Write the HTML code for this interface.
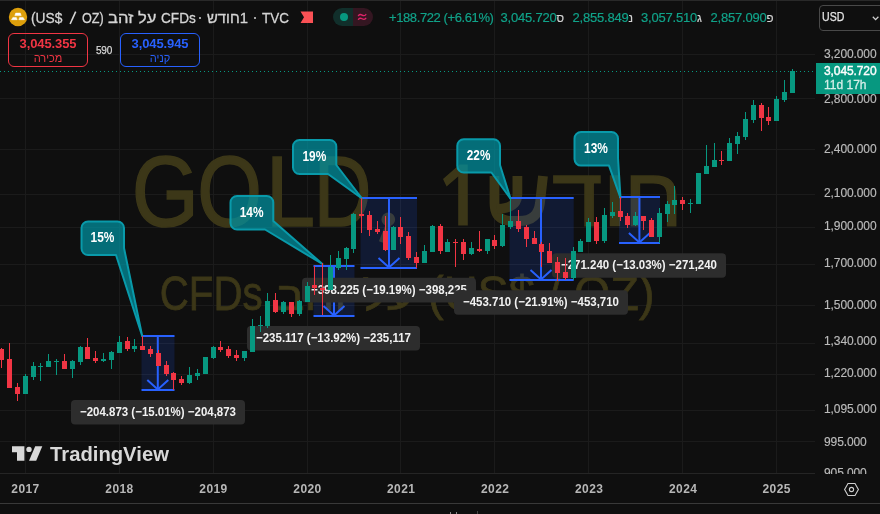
<!DOCTYPE html>
<html><head><meta charset="utf-8"><title>GOLD</title>
<style>
html,body{margin:0;padding:0;background:#0f0f0f;}
body{width:880px;height:514px;overflow:hidden;position:relative;font-family:"Liberation Sans",sans-serif;color:#d1d4dc;}
.abs{position:absolute;white-space:nowrap;}
.vis{direction:ltr;unicode-bidi:bidi-override;}
.pl{position:absolute;left:824px;font-size:12px;color:#bcbcbc;-webkit-text-stroke:0.15px #bcbcbc;white-space:nowrap;letter-spacing:-0.1px;line-height:12px;}
.ohlc{top:10px;font-size:13px;line-height:15px;color:#12a38a;letter-spacing:-0.2px;-webkit-text-stroke:0.2px #12a38a;}
.hl{color:#d6d6d6;font-size:11.5px;-webkit-text-stroke:0.2px #d6d6d6;}
.tl{position:absolute;top:482px;width:60px;text-align:center;font-size:12px;font-weight:bold;color:#b8b8b8;line-height:14px;letter-spacing:0.4px;text-indent:0.4px;}
#wrap{position:absolute;left:0;top:0;width:880px;height:514px;will-change:transform;opacity:0.999;}
</style></head><body><div id="wrap">
<svg width="880" height="514" viewBox="0 0 880 514" style="position:absolute;left:0;top:0" shape-rendering="geometricPrecision">
<g shape-rendering="crispEdges">
<rect x="25" y="0" width="1" height="474" fill="#1c1c1c"/>
<rect x="119" y="0" width="1" height="474" fill="#1c1c1c"/>
<rect x="213" y="0" width="1" height="474" fill="#1c1c1c"/>
<rect x="307" y="0" width="1" height="474" fill="#1c1c1c"/>
<rect x="400" y="0" width="1" height="474" fill="#1c1c1c"/>
<rect x="494" y="0" width="1" height="474" fill="#1c1c1c"/>
<rect x="588" y="0" width="1" height="474" fill="#1c1c1c"/>
<rect x="682" y="0" width="1" height="474" fill="#1c1c1c"/>
<rect x="776" y="0" width="1" height="474" fill="#1c1c1c"/>
<rect x="0" y="54" width="815" height="1" fill="#1c1c1c"/>
<rect x="0" y="98" width="815" height="1" fill="#1c1c1c"/>
<rect x="0" y="149" width="815" height="1" fill="#1c1c1c"/>
<rect x="0" y="194" width="815" height="1" fill="#1c1c1c"/>
<rect x="0" y="227" width="815" height="1" fill="#1c1c1c"/>
<rect x="0" y="264" width="815" height="1" fill="#1c1c1c"/>
<rect x="0" y="305" width="815" height="1" fill="#1c1c1c"/>
<rect x="0" y="343" width="815" height="1" fill="#1c1c1c"/>
<rect x="0" y="374" width="815" height="1" fill="#1c1c1c"/>
<rect x="0" y="410" width="815" height="1" fill="#1c1c1c"/>
<rect x="0" y="441" width="815" height="1" fill="#1c1c1c"/>
<rect x="0" y="473" width="815" height="1" fill="#1c1c1c"/>
</g>
<!-- watermark -->
<g fill="#3d3819" stroke="#3d3819" stroke-width="1.6" font-family="Liberation Sans, sans-serif">
<text transform="translate(131.86 226) scale(0.8624 1.0000)" font-size="100" direction="ltr" unicode-bidi="bidi-override" xml:space="preserve">G</text>
<text transform="translate(197.36 226) scale(0.8321 1.0000)" font-size="100" direction="ltr" unicode-bidi="bidi-override" xml:space="preserve">O</text>
<text transform="translate(265.63 226) scale(0.8868 1.0000)" font-size="100" direction="ltr" unicode-bidi="bidi-override" xml:space="preserve">L</text>
<text transform="translate(313.75 226) scale(0.7986 1.0000)" font-size="100" direction="ltr" unicode-bidi="bidi-override" xml:space="preserve">D</text>
<path d="M388.3 212.6 a6.8 6.8 0 1 1 -0.01 0 Z M391.5 224.5 L383.8 243 L378.9 241.2 L385.2 225.5 Z" stroke="none"/>
<path d="M467.8 164.6 V225.5 H458.2 V176.6 L446.6 186.6 L443 179 L459.6 164.6 Z" stroke="none"/>
<path d="M494.5 176 L494.5 203 C494.5 216 501 221 513 221 L519 221 C533 221 538.5 214 540 203 L543 176" fill="none" stroke-width="9.8"/>
<path d="M517.4 176 L517.4 194 C517.4 204 511 208.5 497 209" fill="none" stroke-width="9.8"/>
<text transform="translate(551.98 225.6) scale(0.9115 0.8300)" font-size="100" direction="ltr" unicode-bidi="bidi-override" xml:space="preserve">ד</text>
<text transform="translate(602.28 225.6) scale(0.9795 0.8300)" font-size="100" direction="ltr" unicode-bidi="bidi-override" xml:space="preserve">ו</text>
<text transform="translate(623.67 225.6) scale(0.8983 0.8300)" font-size="100" direction="ltr" unicode-bidi="bidi-override" xml:space="preserve">ח</text>
<text transform="translate(159.75 310) scale(0.4031 0.4830)" font-size="100" direction="ltr" unicode-bidi="bidi-override" xml:space="preserve">CFDs</text>
<text transform="translate(276.31 310) scale(0.4722 0.4009)" font-size="100" direction="ltr" unicode-bidi="bidi-override" xml:space="preserve">בהז לע</text>
<text transform="translate(428.09 310) scale(0.4686 0.4830)" font-size="100" direction="ltr" unicode-bidi="bidi-override" xml:space="preserve">(US$ / OZ)</text>
</g>
<!-- drawings -->
<rect x="141.5" y="336" width="33.0" height="54" fill="rgba(41,98,255,0.155)"/><line x1="141.5" y1="336" x2="174.5" y2="336" stroke="#2962ff" stroke-width="2"/><line x1="141.5" y1="390" x2="174.5" y2="390" stroke="#2962ff" stroke-width="2"/><line x1="157.8" y1="336" x2="157.8" y2="390" stroke="#2962ff" stroke-width="2"/><path d="M147.3 380 L157.8 389.5 L168.3 380" stroke="#2962ff" stroke-width="2" fill="none"/><rect x="313.5" y="266" width="41.0" height="50" fill="rgba(41,98,255,0.155)"/><line x1="313.5" y1="266" x2="354.5" y2="266" stroke="#2962ff" stroke-width="2"/><line x1="313.5" y1="316" x2="354.5" y2="316" stroke="#2962ff" stroke-width="2"/><line x1="334" y1="266" x2="334" y2="316" stroke="#2962ff" stroke-width="2"/><path d="M323.5 306 L334 315.5 L344.5 306" stroke="#2962ff" stroke-width="2" fill="none"/><rect x="360.5" y="198" width="56.5" height="70" fill="rgba(41,98,255,0.155)"/><line x1="360.5" y1="198" x2="417" y2="198" stroke="#2962ff" stroke-width="2"/><line x1="360.5" y1="268" x2="417" y2="268" stroke="#2962ff" stroke-width="2"/><line x1="389" y1="198" x2="389" y2="268" stroke="#2962ff" stroke-width="2"/><path d="M378.5 258 L389 267.5 L399.5 258" stroke="#2962ff" stroke-width="2" fill="none"/><rect x="509.5" y="198" width="64.20000000000005" height="82" fill="rgba(41,98,255,0.155)"/><line x1="509.5" y1="198" x2="573.7" y2="198" stroke="#2962ff" stroke-width="2"/><line x1="509.5" y1="280" x2="573.7" y2="280" stroke="#2962ff" stroke-width="2"/><line x1="541" y1="198" x2="541" y2="280" stroke="#2962ff" stroke-width="2"/><path d="M530.5 270 L541 279.5 L551.5 270" stroke="#2962ff" stroke-width="2" fill="none"/><rect x="619" y="197" width="41" height="46" fill="rgba(41,98,255,0.155)"/><line x1="619" y1="197" x2="660" y2="197" stroke="#2962ff" stroke-width="2"/><line x1="619" y1="243" x2="660" y2="243" stroke="#2962ff" stroke-width="2"/><line x1="639.4" y1="197" x2="639.4" y2="243" stroke="#2962ff" stroke-width="2"/><path d="M628.9 233 L639.4 242.5 L649.9 233" stroke="#2962ff" stroke-width="2" fill="none"/>
<rect x="71.0" y="399.9" width="174" height="24.7" rx="4" ry="4" fill="#2e2e2e"/><text x="158" y="415.85" text-anchor="middle" font-family="Liberation Sans, sans-serif" font-weight="bold" font-size="12.5" fill="#f2f2f2" textLength="156" lengthAdjust="spacingAndGlyphs">−204.873 (−15.01%) −204,873</text><rect x="247.0" y="326" width="173" height="24.5" rx="4" ry="4" fill="#2e2e2e"/><text x="333.5" y="341.85" text-anchor="middle" font-family="Liberation Sans, sans-serif" font-weight="bold" font-size="12.5" fill="#f2f2f2" textLength="155" lengthAdjust="spacingAndGlyphs">−235.117 (−13.92%) −235,117</text><rect x="302.0" y="277.8" width="174" height="24.6" rx="4" ry="4" fill="#2e2e2e"/><text x="389" y="293.70000000000005" text-anchor="middle" font-family="Liberation Sans, sans-serif" font-weight="bold" font-size="12.5" fill="#f2f2f2" textLength="156" lengthAdjust="spacingAndGlyphs">−398.225 (−19.19%) −398,225</text><rect x="454.0" y="290.2" width="174" height="24.6" rx="4" ry="4" fill="#2e2e2e"/><text x="541" y="306.1" text-anchor="middle" font-family="Liberation Sans, sans-serif" font-weight="bold" font-size="12.5" fill="#f2f2f2" textLength="156" lengthAdjust="spacingAndGlyphs">−453.710 (−21.91%) −453,710</text><rect x="552.0" y="253.2" width="174" height="24.5" rx="4" ry="4" fill="#2e2e2e"/><text x="639" y="269.05" text-anchor="middle" font-family="Liberation Sans, sans-serif" font-weight="bold" font-size="12.5" fill="#f2f2f2" textLength="156" lengthAdjust="spacingAndGlyphs">−271.240 (−13.03%) −271,240</text>
<path d="M88.0 221.5 H117.5 A6.5 6.5 0 0 1 124 228.0 V248 L142.2 336 L116 255 H88.0 A6.5 6.5 0 0 1 81.5 248.5 V228.0 A6.5 6.5 0 0 1 88.0 221.5 Z" fill="rgba(0,151,167,0.7)" stroke="#0a9bab" stroke-width="2" stroke-linejoin="round"/><text font-family="Liberation Sans, sans-serif" transform="translate(90.60 242.15) scale(0.1192 0.1500)" font-size="100" fill="#fff" font-weight="bold" direction="ltr" unicode-bidi="bidi-override" xml:space="preserve">15%</text><path d="M237.0 196 H266.8 A6.5 6.5 0 0 1 273.3 202.5 V221 L322.4 264 L265 229.5 H237.0 A6.5 6.5 0 0 1 230.5 223.0 V202.5 A6.5 6.5 0 0 1 237.0 196 Z" fill="rgba(0,151,167,0.7)" stroke="#0a9bab" stroke-width="2" stroke-linejoin="round"/><text font-family="Liberation Sans, sans-serif" transform="translate(239.75 216.65) scale(0.1192 0.1500)" font-size="100" fill="#fff" font-weight="bold" direction="ltr" unicode-bidi="bidi-override" xml:space="preserve">14%</text><path d="M299.5 140 H329.8 A6.5 6.5 0 0 1 336.3 146.5 V165 L362 198.5 L328 174 H299.5 A6.5 6.5 0 0 1 293 167.5 V146.5 A6.5 6.5 0 0 1 299.5 140 Z" fill="rgba(0,151,167,0.7)" stroke="#0a9bab" stroke-width="2" stroke-linejoin="round"/><text font-family="Liberation Sans, sans-serif" transform="translate(302.50 160.9) scale(0.1192 0.1500)" font-size="100" fill="#fff" font-weight="bold" direction="ltr" unicode-bidi="bidi-override" xml:space="preserve">19%</text><path d="M463.8 139.2 H493.5 A6.5 6.5 0 0 1 500 145.7 V165 L510.5 198.6 L491.4 172.5 H463.8 A6.5 6.5 0 0 1 457.3 166.0 V145.7 A6.5 6.5 0 0 1 463.8 139.2 Z" fill="rgba(0,151,167,0.7)" stroke="#0a9bab" stroke-width="2" stroke-linejoin="round"/><text font-family="Liberation Sans, sans-serif" transform="translate(466.84 159.75) scale(0.1175 0.1500)" font-size="100" fill="#fff" font-weight="bold" direction="ltr" unicode-bidi="bidi-override" xml:space="preserve">22%</text><path d="M581.0 132 H611.5 A6.5 6.5 0 0 1 618 138.5 V158 L620.5 198 L609 165.6 H581.0 A6.5 6.5 0 0 1 574.5 159.1 V138.5 A6.5 6.5 0 0 1 581.0 132 Z" fill="rgba(0,151,167,0.7)" stroke="#0a9bab" stroke-width="2" stroke-linejoin="round"/><text font-family="Liberation Sans, sans-serif" transform="translate(584.10 152.70000000000002) scale(0.1192 0.1500)" font-size="100" fill="#fff" font-weight="bold" direction="ltr" unicode-bidi="bidi-override" xml:space="preserve">13%</text>
<!-- price line -->
<line x1="0" y1="71.5" x2="815" y2="71.5" stroke="#089981" stroke-width="1" stroke-dasharray="1 3" shape-rendering="crispEdges"/>
<g shape-rendering="crispEdges">
<rect x="1" y="348" width="1" height="20" fill="#f23645"/>
<rect x="-1" y="349" width="5" height="11" fill="#f23645"/>
<rect x="9" y="343" width="1" height="45" fill="#f23645"/>
<rect x="7" y="359" width="5" height="29" fill="#f23645"/>
<rect x="17" y="383" width="1" height="18" fill="#f23645"/>
<rect x="15" y="387" width="5" height="7" fill="#f23645"/>
<rect x="25" y="374" width="1" height="20" fill="#089981"/>
<rect x="23" y="376" width="5" height="18" fill="#089981"/>
<rect x="33" y="362" width="1" height="18" fill="#089981"/>
<rect x="31" y="366" width="5" height="11" fill="#089981"/>
<rect x="40" y="363" width="1" height="18" fill="#089981"/>
<rect x="38" y="366" width="5" height="1" fill="#089981"/>
<rect x="48" y="354" width="1" height="13" fill="#089981"/>
<rect x="46" y="361" width="5" height="6" fill="#089981"/>
<rect x="56" y="359" width="1" height="16" fill="#089981"/>
<rect x="54" y="361" width="5" height="1" fill="#089981"/>
<rect x="64" y="354" width="1" height="15" fill="#f23645"/>
<rect x="62" y="361" width="5" height="8" fill="#f23645"/>
<rect x="72" y="360" width="1" height="18" fill="#089981"/>
<rect x="70" y="361" width="5" height="8" fill="#089981"/>
<rect x="80" y="346" width="1" height="19" fill="#089981"/>
<rect x="78" y="347" width="5" height="15" fill="#089981"/>
<rect x="87" y="338" width="1" height="21" fill="#f23645"/>
<rect x="85" y="347" width="5" height="12" fill="#f23645"/>
<rect x="95" y="351" width="1" height="12" fill="#f23645"/>
<rect x="93" y="358" width="5" height="3" fill="#f23645"/>
<rect x="103" y="353" width="1" height="9" fill="#089981"/>
<rect x="101" y="359" width="5" height="2" fill="#089981"/>
<rect x="111" y="351" width="1" height="18" fill="#089981"/>
<rect x="109" y="352" width="5" height="8" fill="#089981"/>
<rect x="119" y="336" width="1" height="17" fill="#089981"/>
<rect x="117" y="342" width="5" height="11" fill="#089981"/>
<rect x="127" y="337" width="1" height="14" fill="#f23645"/>
<rect x="125" y="341" width="5" height="8" fill="#f23645"/>
<rect x="134" y="339" width="1" height="13" fill="#089981"/>
<rect x="132" y="346" width="5" height="3" fill="#089981"/>
<rect x="142" y="336" width="1" height="14" fill="#f23645"/>
<rect x="140" y="346" width="5" height="4" fill="#f23645"/>
<rect x="150" y="346" width="1" height="11" fill="#f23645"/>
<rect x="148" y="349" width="5" height="5" fill="#f23645"/>
<rect x="158" y="350" width="1" height="16" fill="#f23645"/>
<rect x="156" y="353" width="5" height="13" fill="#f23645"/>
<rect x="166" y="361" width="1" height="15" fill="#f23645"/>
<rect x="164" y="365" width="5" height="9" fill="#f23645"/>
<rect x="173" y="372" width="1" height="18" fill="#f23645"/>
<rect x="171" y="373" width="5" height="7" fill="#f23645"/>
<rect x="181" y="376" width="1" height="9" fill="#f23645"/>
<rect x="179" y="379" width="5" height="4" fill="#f23645"/>
<rect x="189" y="367" width="1" height="17" fill="#089981"/>
<rect x="187" y="375" width="5" height="8" fill="#089981"/>
<rect x="197" y="369" width="1" height="11" fill="#089981"/>
<rect x="195" y="373" width="5" height="3" fill="#089981"/>
<rect x="205" y="357" width="1" height="17" fill="#089981"/>
<rect x="203" y="357" width="5" height="17" fill="#089981"/>
<rect x="213" y="346" width="1" height="13" fill="#089981"/>
<rect x="211" y="347" width="5" height="11" fill="#089981"/>
<rect x="220" y="341" width="1" height="11" fill="#f23645"/>
<rect x="218" y="347" width="5" height="3" fill="#f23645"/>
<rect x="228" y="346" width="1" height="12" fill="#f23645"/>
<rect x="226" y="349" width="5" height="7" fill="#f23645"/>
<rect x="236" y="350" width="1" height="11" fill="#f23645"/>
<rect x="234" y="355" width="5" height="3" fill="#f23645"/>
<rect x="244" y="351" width="1" height="10" fill="#089981"/>
<rect x="242" y="351" width="5" height="7" fill="#089981"/>
<rect x="252" y="319" width="1" height="33" fill="#089981"/>
<rect x="250" y="326" width="5" height="26" fill="#089981"/>
<rect x="260" y="316" width="1" height="16" fill="#089981"/>
<rect x="258" y="325" width="5" height="1" fill="#089981"/>
<rect x="267" y="293" width="1" height="35" fill="#089981"/>
<rect x="265" y="301" width="5" height="25" fill="#089981"/>
<rect x="275" y="293" width="1" height="20" fill="#f23645"/>
<rect x="273" y="300" width="5" height="12" fill="#f23645"/>
<rect x="283" y="301" width="1" height="13" fill="#089981"/>
<rect x="281" y="302" width="5" height="10" fill="#089981"/>
<rect x="291" y="302" width="1" height="15" fill="#f23645"/>
<rect x="289" y="302" width="5" height="12" fill="#f23645"/>
<rect x="299" y="300" width="1" height="16" fill="#089981"/>
<rect x="297" y="301" width="5" height="13" fill="#089981"/>
<rect x="307" y="282" width="1" height="20" fill="#089981"/>
<rect x="305" y="286" width="5" height="16" fill="#089981"/>
<rect x="314" y="266" width="1" height="29" fill="#f23645"/>
<rect x="312" y="285" width="5" height="3" fill="#f23645"/>
<rect x="322" y="263" width="1" height="52" fill="#f23645"/>
<rect x="320" y="288" width="5" height="2" fill="#f23645"/>
<rect x="330" y="255" width="1" height="35" fill="#089981"/>
<rect x="328" y="267" width="5" height="23" fill="#089981"/>
<rect x="338" y="251" width="1" height="19" fill="#089981"/>
<rect x="336" y="258" width="5" height="10" fill="#089981"/>
<rect x="346" y="247" width="1" height="23" fill="#089981"/>
<rect x="344" y="248" width="5" height="11" fill="#089981"/>
<rect x="353" y="213" width="1" height="40" fill="#089981"/>
<rect x="351" y="214" width="5" height="35" fill="#089981"/>
<rect x="361" y="198" width="1" height="35" fill="#f23645"/>
<rect x="359" y="214" width="5" height="2" fill="#f23645"/>
<rect x="369" y="211" width="1" height="25" fill="#f23645"/>
<rect x="367" y="215" width="5" height="15" fill="#f23645"/>
<rect x="377" y="221" width="1" height="13" fill="#f23645"/>
<rect x="375" y="229" width="5" height="3" fill="#f23645"/>
<rect x="385" y="216" width="1" height="35" fill="#f23645"/>
<rect x="383" y="231" width="5" height="19" fill="#f23645"/>
<rect x="393" y="226" width="1" height="24" fill="#089981"/>
<rect x="391" y="227" width="5" height="23" fill="#089981"/>
<rect x="400" y="217" width="1" height="27" fill="#f23645"/>
<rect x="398" y="227" width="5" height="10" fill="#f23645"/>
<rect x="408" y="232" width="1" height="28" fill="#f23645"/>
<rect x="406" y="236" width="5" height="22" fill="#f23645"/>
<rect x="416" y="252" width="1" height="16" fill="#f23645"/>
<rect x="414" y="257" width="5" height="6" fill="#f23645"/>
<rect x="424" y="245" width="1" height="18" fill="#089981"/>
<rect x="422" y="251" width="5" height="12" fill="#089981"/>
<rect x="432" y="225" width="1" height="27" fill="#089981"/>
<rect x="430" y="226" width="5" height="26" fill="#089981"/>
<rect x="440" y="224" width="1" height="30" fill="#f23645"/>
<rect x="438" y="226" width="5" height="25" fill="#f23645"/>
<rect x="447" y="239" width="1" height="13" fill="#089981"/>
<rect x="445" y="242" width="5" height="10" fill="#089981"/>
<rect x="455" y="239" width="1" height="28" fill="#f23645"/>
<rect x="453" y="242" width="5" height="1" fill="#f23645"/>
<rect x="463" y="239" width="1" height="21" fill="#f23645"/>
<rect x="461" y="242" width="5" height="12" fill="#f23645"/>
<rect x="471" y="242" width="1" height="13" fill="#089981"/>
<rect x="469" y="248" width="5" height="6" fill="#089981"/>
<rect x="479" y="231" width="1" height="21" fill="#f23645"/>
<rect x="477" y="249" width="5" height="2" fill="#f23645"/>
<rect x="487" y="239" width="1" height="15" fill="#089981"/>
<rect x="485" y="239" width="5" height="12" fill="#089981"/>
<rect x="494" y="235" width="1" height="14" fill="#f23645"/>
<rect x="492" y="240" width="5" height="6" fill="#f23645"/>
<rect x="502" y="214" width="1" height="33" fill="#089981"/>
<rect x="500" y="225" width="5" height="21" fill="#089981"/>
<rect x="510" y="199" width="1" height="30" fill="#089981"/>
<rect x="508" y="221" width="5" height="6" fill="#089981"/>
<rect x="518" y="210" width="1" height="22" fill="#f23645"/>
<rect x="516" y="221" width="5" height="8" fill="#f23645"/>
<rect x="526" y="225" width="1" height="22" fill="#f23645"/>
<rect x="524" y="227" width="5" height="12" fill="#f23645"/>
<rect x="534" y="231" width="1" height="13" fill="#f23645"/>
<rect x="532" y="238" width="5" height="6" fill="#f23645"/>
<rect x="541" y="242" width="1" height="25" fill="#f23645"/>
<rect x="539" y="244" width="5" height="8" fill="#f23645"/>
<rect x="549" y="243" width="1" height="20" fill="#f23645"/>
<rect x="547" y="251" width="5" height="12" fill="#f23645"/>
<rect x="557" y="257" width="1" height="24" fill="#f23645"/>
<rect x="555" y="262" width="5" height="11" fill="#f23645"/>
<rect x="565" y="258" width="1" height="22" fill="#f23645"/>
<rect x="563" y="272" width="5" height="6" fill="#f23645"/>
<rect x="573" y="247" width="1" height="33" fill="#089981"/>
<rect x="571" y="251" width="5" height="27" fill="#089981"/>
<rect x="580" y="239" width="1" height="13" fill="#089981"/>
<rect x="578" y="241" width="5" height="11" fill="#089981"/>
<rect x="588" y="218" width="1" height="24" fill="#089981"/>
<rect x="586" y="222" width="5" height="20" fill="#089981"/>
<rect x="596" y="217" width="1" height="27" fill="#f23645"/>
<rect x="594" y="222" width="5" height="19" fill="#f23645"/>
<rect x="604" y="208" width="1" height="35" fill="#089981"/>
<rect x="602" y="215" width="5" height="26" fill="#089981"/>
<rect x="612" y="202" width="1" height="16" fill="#089981"/>
<rect x="610" y="212" width="5" height="4" fill="#089981"/>
<rect x="620" y="197" width="1" height="24" fill="#f23645"/>
<rect x="618" y="211" width="5" height="6" fill="#f23645"/>
<rect x="627" y="213" width="1" height="15" fill="#f23645"/>
<rect x="625" y="216" width="5" height="9" fill="#f23645"/>
<rect x="635" y="212" width="1" height="14" fill="#089981"/>
<rect x="633" y="216" width="5" height="9" fill="#089981"/>
<rect x="643" y="216" width="1" height="14" fill="#f23645"/>
<rect x="641" y="216" width="5" height="5" fill="#f23645"/>
<rect x="651" y="218" width="1" height="19" fill="#f23645"/>
<rect x="649" y="220" width="5" height="17" fill="#f23645"/>
<rect x="659" y="208" width="1" height="35" fill="#089981"/>
<rect x="657" y="213" width="5" height="24" fill="#089981"/>
<rect x="667" y="201" width="1" height="21" fill="#089981"/>
<rect x="665" y="204" width="5" height="10" fill="#089981"/>
<rect x="674" y="186" width="1" height="28" fill="#089981"/>
<rect x="672" y="200" width="5" height="5" fill="#089981"/>
<rect x="682" y="197" width="1" height="13" fill="#f23645"/>
<rect x="680" y="200" width="5" height="4" fill="#f23645"/>
<rect x="690" y="199" width="1" height="14" fill="#089981"/>
<rect x="688" y="203" width="5" height="1" fill="#089981"/>
<rect x="698" y="173" width="1" height="31" fill="#089981"/>
<rect x="696" y="173" width="5" height="31" fill="#089981"/>
<rect x="706" y="145" width="1" height="29" fill="#089981"/>
<rect x="704" y="166" width="5" height="8" fill="#089981"/>
<rect x="714" y="143" width="1" height="24" fill="#089981"/>
<rect x="712" y="160" width="5" height="7" fill="#089981"/>
<rect x="721" y="151" width="1" height="14" fill="#f23645"/>
<rect x="719" y="160" width="5" height="1" fill="#f23645"/>
<rect x="729" y="138" width="1" height="23" fill="#089981"/>
<rect x="727" y="143" width="5" height="18" fill="#089981"/>
<rect x="737" y="132" width="1" height="22" fill="#089981"/>
<rect x="735" y="136" width="5" height="8" fill="#089981"/>
<rect x="745" y="112" width="1" height="28" fill="#089981"/>
<rect x="743" y="119" width="5" height="18" fill="#089981"/>
<rect x="753" y="100" width="1" height="23" fill="#089981"/>
<rect x="751" y="105" width="5" height="15" fill="#089981"/>
<rect x="761" y="103" width="1" height="28" fill="#f23645"/>
<rect x="759" y="105" width="5" height="13" fill="#f23645"/>
<rect x="768" y="107" width="1" height="18" fill="#f23645"/>
<rect x="766" y="117" width="5" height="4" fill="#f23645"/>
<rect x="776" y="96" width="1" height="25" fill="#089981"/>
<rect x="774" y="99" width="5" height="22" fill="#089981"/>
<rect x="784" y="80" width="1" height="22" fill="#089981"/>
<rect x="782" y="92" width="5" height="8" fill="#089981"/>
<rect x="792" y="69" width="1" height="24" fill="#089981"/>
<rect x="790" y="71" width="5" height="22" fill="#089981"/>
</g>
</svg>

<div class="abs" style="left:0;top:0;width:880px;height:1px;background:#2a2a2a"></div>
<!-- gold icon -->
<svg class="abs" style="left:8px;top:7px" width="20" height="20" viewBox="-10 -10 20 20">
<circle cx="0" cy="-0.05" r="9.2" fill="#dea00c"/>
<g fill="#fff" stroke="#fff" stroke-width="0.5" stroke-linejoin="round">
<path d="M-2.3 -3.9H2.3L3.2 -1.4H-3.2Z"/>
<path d="M-5.1 0.4H-1.7L-0.8 2.7H-6.5Z"/>
<path d="M1.7 0.4H5.1L6.5 2.7H0.8Z"/>
</g>
</svg>
<div class="abs vis" style="left:31.35px;top:9.1px;font-size:15.3px;line-height:18px;color:#d6d6d6;transform-origin:0 0;transform:scaleX(0.9001);-webkit-text-stroke:0.3px #d6d6d6;">(US$</div>
<svg class="abs" style="left:66px;top:8px" width="14" height="20" viewBox="66 8 14 20"><line x1="70.1" y1="24" x2="75.7" y2="11.6" stroke="#d6d6d6" stroke-width="1.6"/></svg>
<div class="abs vis" style="left:82.00px;top:9.1px;font-size:15.3px;line-height:18px;color:#d6d6d6;transform-origin:0 0;transform:scaleX(0.8270);-webkit-text-stroke:0.3px #d6d6d6;">OZ)</div>
<div class="abs vis" style="left:108.24px;top:9.1px;font-size:15.3px;line-height:18px;color:#d6d6d6;transform-origin:0 0;transform:scaleX(1.0828);-webkit-text-stroke:0.3px #d6d6d6;">בהז לע</div>
<div class="abs vis" style="left:160.71px;top:9.1px;font-size:15.3px;line-height:18px;color:#d6d6d6;transform-origin:0 0;transform:scaleX(0.8897);-webkit-text-stroke:0.3px #d6d6d6;">CFDs</div>
<div class="abs" style="left:199.1px;top:16.7px;width:2.3px;height:2.3px;border-radius:1.2px;background:#d6d6d6"></div>
<div class="abs vis" style="left:207.23px;top:9.1px;font-size:15.3px;line-height:18px;color:#d6d6d6;transform-origin:0 0;transform:scaleX(0.9714);-webkit-text-stroke:0.3px #d6d6d6;">שדוח1</div>
<div class="abs" style="left:253.5px;top:16.7px;width:2.3px;height:2.3px;border-radius:1.2px;background:#d6d6d6"></div>
<div class="abs vis" style="left:262.30px;top:9.1px;font-size:15.3px;line-height:18px;color:#d6d6d6;transform-origin:0 0;transform:scaleX(0.8796);-webkit-text-stroke:0.3px #d6d6d6;">TVC</div>
<!-- flag -->
<svg class="abs" style="left:300px;top:11px" width="14" height="13" viewBox="0 0 14 13"><path d="M0.5 0.5H13V12H0.5L4 6.2Z" fill="#fb5256"/></svg>
<!-- pill -->
<div class="abs" style="left:333px;top:8px;width:20px;height:18px;background:#12302c;border-radius:9px 0 0 9px"></div>
<div class="abs" style="left:353px;top:8px;width:20px;height:18px;background:#351722;border-radius:0 9px 9px 0"></div>
<div class="abs" style="left:340px;top:13px;width:8px;height:8px;border-radius:4px;background:#089981"></div>
<svg class="abs" style="left:356.8px;top:11.6px" width="10.6" height="10.6" viewBox="0 0 12 12"><g fill="none" stroke="#e0246a" stroke-width="1.5" stroke-linecap="round"><path d="M1.6 4.1C3 2.3 4.4 2.6 5.8 3.5S8.6 4.6 10 2.9"/><path d="M1.6 8.3C3 6.5 4.4 6.8 5.8 7.7S8.6 8.8 10 7.1"/></g></svg>
<!-- OHLC -->
<div class="abs ohlc" style="left:389px;letter-spacing:-0.4px" id="chg">+188.722 (+6.61%)</div>
<div class="abs ohlc" style="left:500.5px;" id="o1">3,045.720<span class="vis hl">ס</span></div>
<div class="abs ohlc" style="left:572.5px;" id="o2">2,855.849<span class="vis hl">נ</span></div>
<div class="abs ohlc" style="left:641px;" id="o3">3,057.510<span class="vis hl">ג</span></div>
<div class="abs ohlc" style="left:710.5px;" id="o4">2,857.090<span class="vis hl">פ</span></div>
<!-- sell / buy -->
<div class="abs" style="left:8px;top:33px;width:78px;height:32px;border:1px solid #f23645;border-radius:6px;"></div>
<div class="abs" style="left:8px;top:36px;width:80px;text-align:center;font-size:13px;font-weight:bold;color:#f23645;line-height:15px;letter-spacing:-0.1px" id="sell">3,045.355</div>
<div class="abs vis" style="left:8px;top:52px;width:80px;text-align:center;font-size:11px;color:#f23645;line-height:13px" id="sellL">הריכמ</div>
<div class="abs" style="left:94px;top:44px;width:20px;text-align:center;font-size:10px;color:#d8d8d8;line-height:13px;letter-spacing:-0.2px;-webkit-text-stroke:0.25px #d8d8d8">590</div>
<div class="abs" style="left:120px;top:33px;width:78px;height:32px;border:1px solid #2962ff;border-radius:6px;"></div>
<div class="abs" style="left:120px;top:36px;width:80px;text-align:center;font-size:13px;font-weight:bold;color:#2962ff;line-height:15px;letter-spacing:-0.1px" id="buy">3,045.945</div>
<div class="abs vis" style="left:120px;top:52px;width:80px;text-align:center;font-size:11px;color:#2962ff;line-height:13px" id="buyL">הינק</div>
<!-- USD select -->
<div class="abs" style="left:819px;top:5px;width:70px;height:24px;border:1px solid #4a4a4a;border-radius:4px;"></div>
<div class="abs vis" style="left:822.38px;top:9.9px;font-size:12.5px;line-height:15px;color:#e6e6e6;transform-origin:0 0;transform:scaleX(0.8458);-webkit-text-stroke:0.25px #e6e6e6;">USD</div>
<svg class="abs" style="left:871px;top:15.4px" width="9" height="7" viewBox="0 0 9 7"><path d="M1.8 1.8L4.6 4.6L7.4 1.8" stroke="#d0d0d0" stroke-width="1.3" fill="none"/></svg>
<!-- last price label -->
<div class="abs" style="left:816px;top:63px;width:64px;height:31px;background:#089981"></div>
<div class="abs" style="left:824px;top:64px;font-size:12px;color:#fff;line-height:14px;letter-spacing:-0.1px;-webkit-text-stroke:0.4px #fff" id="lp">3,045.720</div>
<div class="abs" style="left:824px;top:78.4px;font-size:12px;color:#d5efe9;line-height:14px;-webkit-text-stroke:0.3px #d5efe9" id="cd">11d 17h</div>

<div class="abs" style="left:816px;top:40px;width:64px;height:434px;overflow:hidden"><div class="pl" style="left:8px;top:8.3px">3,200.000</div><div class="pl" style="left:8px;top:53.3px">2,800.000</div><div class="pl" style="left:8px;top:102.7px">2,400.000</div><div class="pl" style="left:8px;top:146.5px">2,100.000</div><div class="pl" style="left:8px;top:179.7px">1,900.000</div><div class="pl" style="left:8px;top:216.7px">1,700.000</div><div class="pl" style="left:8px;top:258.9px">1,500.000</div><div class="pl" style="left:8px;top:295.3px">1,340.000</div><div class="pl" style="left:8px;top:326.5px">1,220.000</div><div class="pl" style="left:8px;top:362.5px">1,095.000</div><div class="pl" style="left:8px;top:395.8px">995.000</div><div class="pl" style="left:8px;top:426.5px">905.000</div></div><div class="tl" style="left:-4.7px">2017</div><div class="tl" style="left:89.3px">2018</div><div class="tl" style="left:183.3px">2019</div><div class="tl" style="left:277.3px">2020</div><div class="tl" style="left:371.0px">2021</div><div class="tl" style="left:465.0px">2022</div><div class="tl" style="left:559.0px">2023</div><div class="tl" style="left:653.0px">2024</div><div class="tl" style="left:746.5px">2025</div>
<div class="abs" style="left:0;top:473px;width:815px;height:1px;background:#262626"></div>
<div class="abs" style="left:0;top:503px;width:880px;height:1px;background:#3a3a3a"></div>
<svg class="abs" style="left:843px;top:481px" width="17" height="17" viewBox="0 0 17 17"><path d="M1.6 8.5L5 2.5H12L15.4 8.5L12 14.5H5Z" fill="none" stroke="#d0d0d0" stroke-width="1.1"/><circle cx="8.5" cy="8.5" r="2.1" fill="none" stroke="#d0d0d0" stroke-width="1.1"/></svg>
<!-- TradingView logo -->
<svg class="abs" style="left:11px;top:445px" width="34" height="17" viewBox="0 0 34 17"><g fill="#d9d9d9"><path d="M1 1.3H13.4V15.8H6V7.3H1Z"/><circle cx="18" cy="4.4" r="2.7"/><path d="M24.2 1.3H31.3L25.2 15.8H18Z"/></g></svg>
<div class="abs vis" style="left:49.57px;top:441.5px;font-size:21px;line-height:24px;color:#d9d9d9;font-weight:bold;transform-origin:0 0;transform:scaleX(0.9642);">TradingView</div>
<div class="abs" style="left:450px;top:512px;width:1px;height:2px;background:#888"></div>
<div class="abs" style="left:456px;top:512px;width:1px;height:2px;background:#888"></div>
<div class="abs" style="left:477px;top:511px;width:1px;height:3px;background:#444"></div>

</div></body></html>
